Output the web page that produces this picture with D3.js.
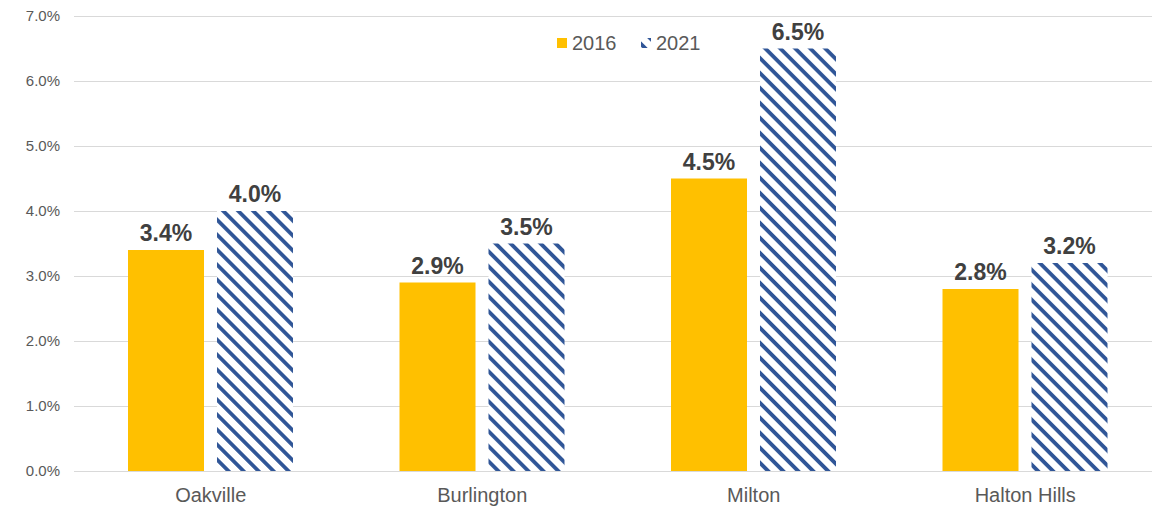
<!DOCTYPE html>
<html>
<head>
<meta charset="utf-8">
<script src="https://cdn.jsdelivr.net/npm/d3@7"></script>
<style>
  body { margin: 0; background: #fff; }
  text { font-family: Arial, "Liberation Sans", sans-serif; }
</style>
</head>
<body>
<div id="chart"></div>
<script>
// chart data
const towns = ['Oakville', 'Burlington', 'Milton', 'Halton Hills'];
const years = ['2016', '2021'];
const share2016 = [3.4, 2.9, 4.5, 2.8];
const share2021 = [4.0, 3.5, 6.5, 3.2];
const yTicks = [0, 1, 2, 3, 4, 5, 6, 7];

const width = 1152, height = 508;
const yellow = '#FFC000', blue = '#2F5597';

const svg = d3.select('#chart').append('svg')
    .attr('width', width)
    .attr('height', height);

// stripe fill for 2021
const pat = svg.append('defs').append('pattern')
    .attr('id', 'stripes')
    .attr('patternUnits', 'userSpaceOnUse')
    .attr('width', 10.6).attr('height', 10.6)
    .attr('patternTransform', 'rotate(45)');
pat.append('rect').attr('width', 10.6).attr('height', 10.6).attr('fill', '#fff');
pat.append('rect').attr('width', 10.6).attr('height', 3.8).attr('fill', blue);

const x = d3.scaleBand().domain(towns).range([75, 1161]);
const y = d3.scaleLinear().domain([0, 7]).range([471, 16]);
const inner = d3.scaleBand().domain(years).range([53, 218]).paddingInner(0.146);

// grid lines + tick labels
const yAxis = svg.append('g')
    .attr('transform', 'translate(74,0)')
    .call(d3.axisLeft(y).tickValues(yTicks).tickSize(-1090).tickPadding(14)
        .tickFormat(d => d.toFixed(1) + '%'));
yAxis.select('.domain').remove();
yAxis.selectAll('line').attr('stroke', '#D9D9D9').attr('stroke-width', 1);
yAxis.selectAll('text').attr('fill', '#595959').style('font-size', '15px');

// category labels
svg.append('g').selectAll('text')
    .data(towns)
    .join('text')
    .attr('x', d => x(d) + x.bandwidth() / 2)
    .attr('y', 502)
    .attr('text-anchor', 'middle')
    .attr('fill', '#595959')
    .style('font-size', '20px')
    .text(d => d);

const rows = [];
towns.forEach((t, i) => {
    rows.push({ town: t, year: '2016', v: share2016[i] });
    rows.push({ town: t, year: '2021', v: share2021[i] });
});

svg.append('g').selectAll('rect')
    .data(rows)
    .join('rect')
    .attr('x', d => x(d.town) + inner(d.year))
    .attr('y', d => y(d.v))
    .attr('width', inner.bandwidth())
    .attr('height', d => y(0) - y(d.v))
    .attr('fill', d => d.year === '2016' ? yellow : 'url(#stripes)');

// value labels
svg.append('g').selectAll('text')
    .data(rows)
    .join('text')
    .attr('x', d => x(d.town) + inner(d.year) + inner.bandwidth() / 2)
    .attr('y', d => y(d.v) - 9)
    .attr('text-anchor', 'middle')
    .attr('fill', '#404040')
    .style('font-size', '23px')
    .style('font-weight', 'bold')
    .text(d => d.v.toFixed(1) + '%');

// legend
const legend = svg.append('g');
const legendItems = [
    { label: years[0], fill: yellow, x: 557 },
    { label: years[1], fill: 'url(#stripes)', x: 641 }
];
legendItems.forEach(it => {
    legend.append('rect')
        .attr('x', it.x).attr('y', 38)
        .attr('width', 10).attr('height', 10)
        .attr('fill', it.fill);
    legend.append('text')
        .attr('x', it.x + 15).attr('y', 50)
        .attr('fill', '#595959')
        .style('font-size', '20px')
        .text(it.label);
});
</script>
</body>
</html>
